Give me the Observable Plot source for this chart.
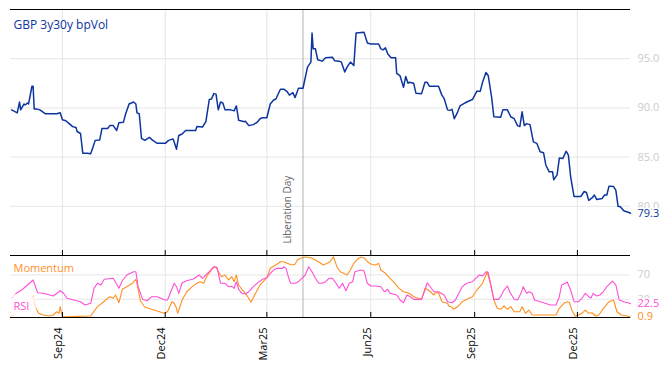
<!DOCTYPE html>
<html><head><meta charset="utf-8">
<script src="https://cdn.jsdelivr.net/npm/d3@7"></script>
<script src="https://cdn.jsdelivr.net/npm/@observablehq/plot@0.6"></script>
<style>
body{margin:0;background:#fff;}
#chart{position:relative;width:668px;height:366px;font-family:"Open Sans",sans-serif;}
#chart svg{position:absolute;left:0;overflow:visible;}
</style></head><body><div id="chart"></div>
<script>
const title = "GBP 3y30y bpVol";
const eventDate = "2025-04-02";
const eventLabel = "Liberation Day";
const xStart = "2024-07-17", xEnd = "2026-01-17";
const tickDates = ["2024-09-01","2024-12-01","2025-03-01","2025-06-01","2025-09-01","2025-12-01"];
const volDomain = [75, 100];
const volTicks = [80, 85, 90, 95];
const oscDomain = [0, 102];
const oscTicks = [30, 70];
const momLabel = "Momentum", rsiLabel = "RSI";

const volDates = ["2024-07-18","2024-07-23","2024-07-25","2024-07-26","2024-07-29","2024-07-30","2024-08-01","2024-08-02","2024-08-05","2024-08-06","2024-08-07","2024-08-09","2024-08-12","2024-08-17","2024-08-27","2024-08-30","2024-09-01","2024-09-04","2024-09-07","2024-09-10","2024-09-13","2024-09-14","2024-09-17","2024-09-19","2024-09-23","2024-09-26","2024-09-28","2024-09-30","2024-10-04","2024-10-06","2024-10-11","2024-10-13","2024-10-16","2024-10-19","2024-10-21","2024-10-25","2024-10-27","2024-10-30","2024-11-03","2024-11-05","2024-11-06","2024-11-08","2024-11-10","2024-11-13","2024-11-17","2024-11-20","2024-11-24","2024-12-01","2024-12-04","2024-12-08","2024-12-09","2024-12-11","2024-12-13","2024-12-16","2024-12-19","2024-12-28","2024-12-29","2025-01-03","2025-01-06","2025-01-09","2025-01-11","2025-01-13","2025-01-15","2025-01-17","2025-01-19","2025-01-21","2025-01-23","2025-01-28","2025-01-31","2025-02-02","2025-02-04","2025-02-09","2025-02-10","2025-02-13","2025-02-17","2025-02-20","2025-02-23","2025-02-25","2025-03-01","2025-03-04","2025-03-07","2025-03-09","2025-03-13","2025-03-16","2025-03-19","2025-03-21","2025-03-24","2025-03-26","2025-03-29","2025-04-02","2025-04-06","2025-04-09","2025-04-10","2025-04-11","2025-04-13","2025-04-15","2025-04-19","2025-04-22","2025-04-28","2025-04-30","2025-05-04","2025-05-06","2025-05-09","2025-05-11","2025-05-14","2025-05-17","2025-05-19","2025-05-26","2025-05-29","2025-06-01","2025-06-08","2025-06-10","2025-06-12","2025-06-14","2025-06-16","2025-06-19","2025-06-23","2025-06-24","2025-06-27","2025-06-30","2025-07-02","2025-07-04","2025-07-05","2025-07-09","2025-07-11","2025-07-16","2025-07-19","2025-07-21","2025-07-23","2025-07-31","2025-08-03","2025-08-05","2025-08-08","2025-08-10","2025-08-12","2025-08-14","2025-08-17","2025-08-19","2025-08-22","2025-08-25","2025-08-30","2025-09-03","2025-09-06","2025-09-08","2025-09-11","2025-09-13","2025-09-16","2025-09-18","2025-09-24","2025-09-26","2025-09-30","2025-10-03","2025-10-06","2025-10-09","2025-10-11","2025-10-13","2025-10-15","2025-10-17","2025-10-20","2025-10-23","2025-10-26","2025-10-29","2025-11-01","2025-11-03","2025-11-06","2025-11-09","2025-11-10","2025-11-13","2025-11-15","2025-11-18","2025-11-21","2025-11-23","2025-11-25","2025-11-28","2025-12-04","2025-12-07","2025-12-09","2025-12-11","2025-12-14","2025-12-16","2025-12-18","2025-12-23","2025-12-25","2025-12-27","2025-12-29","2026-01-02","2026-01-04","2026-01-06","2026-01-08","2026-01-11","2026-01-15","2026-01-17"];
const volValues = [89.8,89.5,90.6,89.8,90.4,90.3,90.5,90.4,92.2,92.2,89.9,89.9,89.8,89.4,89.4,89.5,88.8,88.7,88.4,88.1,88.0,87.6,87.4,85.4,85.4,85.35,86.0,86.7,86.75,87.9,87.9,88.2,88.2,87.7,88.5,88.55,89.4,90.4,90.6,90.4,89.5,89.4,86.9,86.7,87.0,86.7,86.4,86.4,86.7,86.85,86.5,85.8,87.2,87.35,87.7,87.7,88.1,88.05,88.6,90.85,90.9,91.45,91.4,89.8,90.6,90.5,89.8,89.8,89.7,90.2,88.75,88.6,88.65,88.2,88.3,88.5,88.9,89.0,89.0,90.4,90.8,90.9,91.9,91.9,91.65,91.3,91.55,91.05,92.0,92.0,94.15,94.65,97.6,96.0,96.0,94.9,94.75,95.1,95.15,94.8,94.75,94.65,93.65,94.15,94.65,94.3,97.6,97.7,96.6,96.5,96.5,96.0,95.9,96.1,95.5,95.1,95.1,93.5,93.25,92.1,93.2,92.5,92.6,92.5,91.5,91.45,92.6,92.6,92.2,92.2,91.3,90.95,89.8,89.75,89.85,88.9,89.6,90.2,90.4,90.6,90.85,91.7,91.7,92.6,93.6,93.3,91.1,89.1,89.05,89.8,89.8,89.1,88.9,88.2,88.1,89.6,88.2,88.4,88.3,86.55,86.4,85.55,85.45,84.2,83.5,83.5,82.7,83.2,84.9,84.85,85.6,85.2,83.0,81.0,81.0,81.5,81.4,80.6,80.85,81.15,80.7,80.8,81.15,81.15,82.05,82.0,81.65,80.0,79.95,79.55,79.4,79.3];

const rsiDates = ["2024-07-18","2024-07-22","2024-07-27","2024-08-01","2024-08-06","2024-08-10","2024-08-15","2024-08-24","2024-08-30","2024-09-02","2024-09-05","2024-09-17","2024-09-21","2024-09-26","2024-09-29","2024-10-02","2024-10-05","2024-10-08","2024-10-16","2024-10-21","2024-10-24","2024-10-28","2024-11-03","2024-11-05","2024-11-07","2024-11-11","2024-11-15","2024-11-19","2024-11-24","2024-11-27","2024-12-01","2024-12-03","2024-12-06","2024-12-09","2024-12-11","2024-12-13","2024-12-16","2024-12-20","2024-12-26","2024-12-31","2025-01-03","2025-01-06","2025-01-09","2025-01-13","2025-01-16","2025-01-19","2025-01-23","2025-01-26","2025-01-29","2025-01-31","2025-02-02","2025-02-04","2025-02-07","2025-02-10","2025-02-13","2025-02-17","2025-02-22","2025-02-25","2025-03-01","2025-03-04","2025-03-07","2025-03-10","2025-03-15","2025-03-16","2025-03-18","2025-03-20","2025-03-22","2025-03-26","2025-03-29","2025-04-01","2025-04-04","2025-04-07","2025-04-10","2025-04-13","2025-04-16","2025-04-19","2025-04-22","2025-04-25","2025-04-28","2025-05-01","2025-05-04","2025-05-07","2025-05-10","2025-05-13","2025-05-16","2025-05-18","2025-05-23","2025-05-26","2025-05-29","2025-06-01","2025-06-05","2025-06-10","2025-06-13","2025-06-16","2025-06-18","2025-06-24","2025-06-27","2025-06-30","2025-07-03","2025-07-06","2025-07-09","2025-07-16","2025-07-19","2025-07-21","2025-07-24","2025-07-27","2025-07-31","2025-08-05","2025-08-08","2025-08-12","2025-08-15","2025-08-18","2025-08-21","2025-08-25","2025-08-30","2025-09-02","2025-09-05","2025-09-08","2025-09-11","2025-09-13","2025-09-15","2025-09-18","2025-09-22","2025-09-24","2025-09-27","2025-09-30","2025-10-02","2025-10-06","2025-10-09","2025-10-12","2025-10-14","2025-10-17","2025-10-19","2025-10-22","2025-10-24","2025-10-26","2025-11-01","2025-11-07","2025-11-12","2025-11-15","2025-11-17","2025-11-20","2025-11-22","2025-11-25","2025-11-28","2025-12-02","2025-12-05","2025-12-08","2025-12-11","2025-12-13","2025-12-15","2025-12-18","2025-12-21","2025-12-24","2025-12-27","2026-01-01","2026-01-04","2026-01-07","2026-01-11","2026-01-15","2026-01-17"];
const rsiValues = [31.6,39.8,45.2,53.5,61.7,40.8,39.8,35.4,44.1,39.8,31.6,26.0,20.6,23.4,48.0,56.3,53.5,62.8,64.5,48.0,60.5,69.9,75.3,75.3,50.7,29.9,27.6,34.2,34.2,31.6,28.8,28.8,42.4,56.3,50.7,39.8,57.2,60.5,63.3,69.9,64.5,69.9,75.3,83.6,82.0,56.3,56.3,50.7,51.5,48.0,58.9,46.4,39.8,38.7,42.4,50.7,58.9,62.8,65.5,72.7,78.1,80.9,80.9,83.6,80.9,67.1,56.3,56.3,58.9,64.5,69.9,83.6,75.3,64.5,56.3,56.3,58.9,64.5,64.5,57.2,48.0,56.3,44.1,56.3,58.9,75.3,78.1,77.0,56.3,51.8,51.8,50.7,42.4,46.4,39.8,37.0,28.8,24.3,37.0,34.2,29.9,29.9,45.2,57.2,49.7,42.4,42.4,37.0,26.0,24.3,28.8,39.8,50.7,56.3,58.9,64.5,69.9,68.5,75.3,74.0,56.3,29.9,29.9,34.2,45.2,51.8,42.4,29.9,28.8,39.8,50.7,39.8,42.4,39.8,28.8,27.6,24.3,20.6,20.6,34.2,53.5,56.3,58.4,45.2,26.0,26.0,31.6,39.8,34.2,32.0,39.8,35.4,37.0,42.4,50.7,60.0,53.5,28.8,26.0,24.3,22.5];

const momDates = ["2024-07-17","2024-07-26","2024-08-01","2024-08-06","2024-08-08","2024-08-11","2024-08-15","2024-08-20","2024-08-24","2024-08-27","2024-08-29","2024-08-30","2024-09-01","2024-09-02","2024-09-26","2024-10-02","2024-10-06","2024-10-11","2024-10-13","2024-10-16","2024-10-18","2024-10-21","2024-10-24","2024-10-28","2024-11-02","2024-11-05","2024-11-06","2024-11-09","2024-11-13","2024-11-21","2024-11-30","2024-12-03","2024-12-07","2024-12-09","2024-12-11","2024-12-12","2024-12-16","2024-12-20","2024-12-25","2024-12-29","2025-01-01","2025-01-04","2025-01-07","2025-01-12","2025-01-15","2025-01-17","2025-01-20","2025-01-23","2025-01-26","2025-01-29","2025-01-31","2025-02-02","2025-02-04","2025-02-07","2025-02-10","2025-02-13","2025-02-15","2025-02-16","2025-02-19","2025-02-23","2025-03-01","2025-03-04","2025-03-09","2025-03-13","2025-03-16","2025-03-19","2025-03-23","2025-03-26","2025-03-28","2025-03-31","2025-04-03","2025-04-07","2025-04-10","2025-04-13","2025-04-17","2025-04-20","2025-04-23","2025-04-26","2025-04-29","2025-05-02","2025-05-05","2025-05-08","2025-05-11","2025-05-14","2025-05-17","2025-05-20","2025-05-23","2025-05-26","2025-05-29","2025-06-01","2025-06-05","2025-06-08","2025-06-10","2025-06-14","2025-06-18","2025-06-21","2025-06-26","2025-06-30","2025-07-05","2025-07-09","2025-07-13","2025-07-16","2025-07-19","2025-07-22","2025-07-27","2025-07-28","2025-07-31","2025-08-03","2025-08-08","2025-08-09","2025-08-12","2025-08-13","2025-08-17","2025-08-21","2025-08-25","2025-08-30","2025-09-03","2025-09-08","2025-09-11","2025-09-12","2025-09-15","2025-09-18","2025-09-21","2025-09-24","2025-09-27","2025-09-30","2025-10-03","2025-10-06","2025-10-11","2025-10-13","2025-10-16","2025-10-19","2025-10-22","2025-11-04","2025-11-12","2025-11-15","2025-11-19","2025-11-22","2025-11-24","2025-11-26","2025-11-29","2025-12-02","2025-12-05","2025-12-08","2025-12-11","2025-12-14","2025-12-17","2025-12-20","2025-12-24","2025-12-29","2026-01-02","2026-01-05","2026-01-09","2026-01-14","2026-01-17"];
const momValues = [1.3,12.3,23.4,35.4,16.8,6.9,4.1,2.5,4.1,9.5,6.9,17.8,1.3,1.0,2.5,17.8,23.4,31.6,34.2,31.6,37.0,24.3,46.4,50.7,56.3,62.8,56.3,27.6,16.8,12.3,6.9,9.5,26.0,23.4,15.1,6.9,28.8,42.4,50.7,56.3,58.9,56.3,68.3,80.9,83.6,75.3,67.1,69.9,61.7,67.1,58.9,69.9,53.5,46.4,39.8,31.6,25.0,28.8,39.8,53.5,65.5,80.9,86.3,91.8,91.8,89.1,86.3,87.5,94.6,97.4,99.0,99.0,97.4,94.6,90.1,86.3,89.0,91.8,100.0,83.6,75.3,72.7,69.9,78.1,89.1,95.7,99.0,98.0,91.8,88.0,86.3,89.0,78.1,72.7,64.5,58.9,48.0,42.4,39.8,34.2,31.6,29.9,48.0,45.2,37.0,40.8,40.8,26.0,23.4,18.9,16.8,13.5,17.8,26.0,29.9,34.2,45.2,56.3,69.9,75.3,56.3,28.8,15.1,13.5,18.9,13.5,17.8,9.5,9.5,17.8,6.9,12.3,4.1,4.1,4.1,15.1,23.4,26.0,24.5,12.3,2.5,4.1,6.9,12.3,6.9,7.8,2.5,4.1,15.1,26.0,28.8,9.5,4.1,2.5,0.9];

const BLUE = "#0d35a0", ORANGE = "#ff901f", PINK = "#ff4fd6", GRID = "#e6e6e6", LABEL = "#cccccc";
const parse = d3.utcParse("%Y-%m-%d");
const rows = (ds, vs) => ds.map((d, i) => ({date: parse(d), value: vs[i]}));
const vol = rows(volDates, volValues);
const rsi = rows(rsiDates, rsiValues);
const mom = rows(momDates, momValues);
const ticks = tickDates.map(parse);
const ev = parse(eventDate);
const xOpts = {type: "utc", domain: [parse(xStart), parse(xEnd)], axis: null};
const style = {fontFamily: "'Open Sans', sans-serif", fontSize: "11px", background: "transparent", overflow: "visible"};
const lastVol = vol[vol.length - 1], lastRsi = rsi[rsi.length - 1], lastMom = mom[mom.length - 1];

const topPlot = Plot.plot({
  width: 668, height: 256, marginTop: 9, marginBottom: 1, marginLeft: 10, marginRight: 38,
  style, x: xOpts, y: {domain: volDomain, axis: null},
  marks: [
    Plot.ruleX(ticks, {stroke: GRID}),
    Plot.ruleY(volTicks, {stroke: GRID}),
    Plot.ruleX([ev], {stroke: "#b4b4b4"}),
    Plot.text([eventLabel], {x: () => ev, frameAnchor: "bottom", rotate: -90, textAnchor: "start", dx: -12, dy: -12, fill: "#666", fontSize: 10}),
    Plot.line(vol, {x: "date", y: "value", stroke: BLUE, strokeWidth: 1.5}),
    Plot.text([title], {frameAnchor: "top-left", lineAnchor: "top", dx: 3, dy: 11, fill: BLUE, fontSize: 12}),
    Plot.ruleY([volDomain[1]], {stroke: "black"}),
    Plot.ruleY([volDomain[0]], {stroke: "black"}),
    Plot.ruleX(ticks, {stroke: "black", insetTop: 241}),
    Plot.text(volTicks, {y: d => d, frameAnchor: "right", textAnchor: "start", dx: 7, text: d => d.toFixed(1), fill: LABEL}),
    Plot.text([lastVol], {y: "value", frameAnchor: "right", textAnchor: "start", dx: 7, text: d => d.value.toFixed(1), fill: BLUE, stroke: "white", strokeWidth: 3, paintOrder: "stroke"})
  ]
});
topPlot.style.top = "0px";

const botPlot = Plot.plot({
  width: 668, height: 111, marginTop: 0, marginBottom: 49, marginLeft: 10, marginRight: 38,
  style, x: xOpts, y: {domain: oscDomain, axis: null},
  marks: [
    Plot.ruleX(ticks, {stroke: GRID}),
    Plot.ruleY(oscTicks, {stroke: GRID}),
    Plot.ruleX([ev], {stroke: "#b4b4b4"}),
    Plot.line(mom, {x: "date", y: "value", stroke: ORANGE, strokeWidth: 1.1}),
    Plot.line(rsi, {x: "date", y: "value", stroke: PINK, strokeWidth: 1.1}),
    Plot.text([momLabel], {frameAnchor: "top-left", lineAnchor: "top", dx: 3, dy: 9, fill: ORANGE, fontSize: 11}),
    Plot.text([rsiLabel], {frameAnchor: "top-left", lineAnchor: "top", dx: 3, dy: 47, fill: PINK, fontSize: 11, stroke: "white", strokeOpacity: 0.75, strokeWidth: 16, strokeLinejoin: "round", paintOrder: "stroke"}),
    Plot.ruleY([oscDomain[0]], {stroke: "black"}),
    Plot.ruleX(ticks, {stroke: "black", insetTop: 57}),
    Plot.text(oscTicks, {y: d => d, frameAnchor: "right", textAnchor: "start", dx: 7, text: d => String(d), fill: LABEL}),
    Plot.text([lastRsi], {y: "value", frameAnchor: "right", textAnchor: "start", dx: 7, text: d => d.value.toFixed(1), fill: PINK, stroke: "white", strokeWidth: 3, paintOrder: "stroke"}),
    Plot.text([lastMom], {y: "value", frameAnchor: "right", textAnchor: "start", dx: 7, text: d => d.value.toFixed(1), fill: ORANGE, stroke: "white", strokeWidth: 3, paintOrder: "stroke"}),
    Plot.text(ticks, {x: d => d, frameAnchor: "bottom", rotate: -90, textAnchor: "end", dy: 10, text: d3.utcFormat("%b%y"), fill: "black", fontSize: 11})
  ]
});
botPlot.style.top = "255px";

const root = document.getElementById("chart");
root.appendChild(botPlot);
root.appendChild(topPlot);
</script></body></html>
